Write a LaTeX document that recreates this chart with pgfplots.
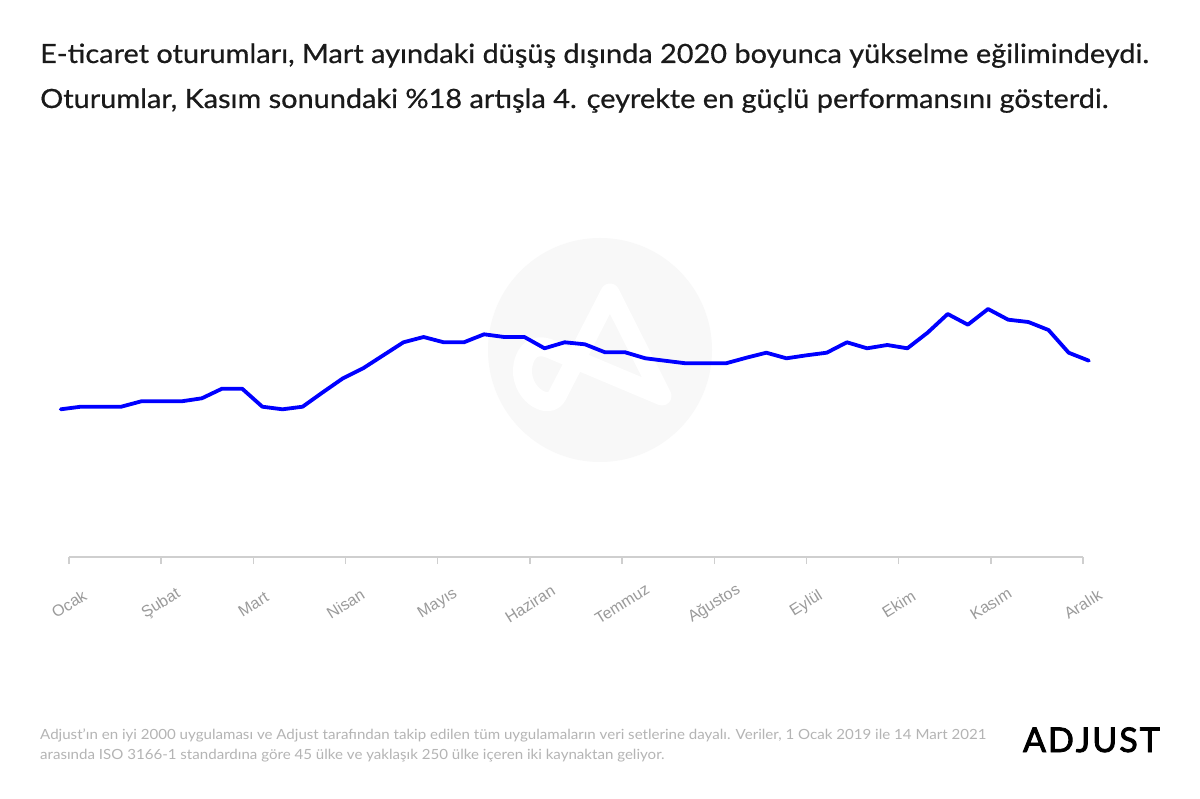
\documentclass[border=0pt]{standalone}
\usepackage{pgfplots}
\pgfplotsset{compat=1.18}
\usepackage{fontspec}
\setmainfont{Lato}
\newfontfamily\titlefont{Lato}[FakeBold=0.6, FakeStretch=1.09]
\newfontfamily\footfont{Lato}[FakeStretch=1.077]
\newfontfamily\tickfont{Liberation Sans}
\newfontfamily\logofont{Lato}[FakeBold=2.5]
\definecolor{titlecol}{HTML}{1A1A1A}
\definecolor{footcol}{HTML}{B4B4B4}
\definecolor{tickcol}{HTML}{9A9A9A}
\definecolor{axcol}{HTML}{CFCFCF}
\definecolor{wm}{HTML}{F8F8F8}
\definecolor{lineblue}{HTML}{0000FF}
\pgfplotstableread{
x y
0 147.7
1 150.3
2 150.3
3 150.3
4 155.7
5 155.7
6 155.7
7 158.7
8 168.3
9 168.3
10 150.3
11 147.7
12 150.3
13 164.7
14 178.7
15 188.7
16 201.7
17 214.7
18 220
19 214.7
20 214.7
21 222.7
22 220
23 220
24 208.7
25 214.7
26 212.7
27 204.7
28 204.7
29 198.7
30 196.2
31 193.7
32 193.7
33 193.7
34 199.2
35 204.3
36 198.7
37 201.7
38 204.3
39 214.7
40 208.7
41 212
42 208.7
43 224.3
44 243
45 232.3
46 248
47 237.3
48 235
49 227
50 204.3
51 196.3
}\sessions
\begin{document}
\begin{tikzpicture}
\begin{scope}[x=1pt,y=-1pt]
\fill[white] (0,0) rectangle (1200,799);
\path[use as bounding box] (0,0) rectangle (1200,799);
% watermark
\fill[wm] (600,350) circle (112);
\draw[white, line width=19pt, line cap=round, line join=round]
  (662,396) -- (610,293) -- (557,396)
  .. controls (548,412) and (518,392) .. (523,365)
  .. controls (526,350) and (535,344) .. (548,348) -- (662,396);
% titles
\node[anchor=base west, inner sep=0pt, text=titlecol, font=\titlefont\fontsize{26.5}{31}\selectfont] at (40,63) {E-ticaret oturumları, Mart ayındaki düşüş dışında 2020 boyunca yükselme eğilimindeydi.};
\node[anchor=base west, inner sep=0pt, text=titlecol, font=\titlefont\fontsize{26.5}{31}\selectfont] at (40,108) {Oturumlar, Kasım sonundaki \%18 artışla 4. çeyrekte en güçlü performansını gösterdi.};
% footer
\node[anchor=base west, inner sep=0pt, text=footcol, font=\footfont\fontsize{14}{17}\selectfont] at (40,739) {Adjust’ın en iyi 2000 uygulaması ve Adjust tarafından takip edilen tüm uygulamaların veri setlerine dayalı. Veriler, 1 Ocak 2019 ile 14 Mart 2021};
\node[anchor=base west, inner sep=0pt, text=footcol, font=\footfont\fontsize{14}{17}\selectfont] at (40,759) {arasında ISO 3166-1 standardına göre 45 ülke ve yaklaşık 250 ülke içeren iki kaynaktan geliyor.};
% logo
\node[anchor=base east, inner sep=0pt, text=black, font=\logofont\fontsize{34}{40}\selectfont] at (1160,752) {A\kern2pt D\kern2pt J\kern2pt U\kern2pt S\kern2pt T};
\end{scope}
\begin{axis}[
  at={(69pt,-557pt)}, anchor=south west,
  scale only axis, width=1014pt, height=300pt,
  xmin=0.41, xmax=50.71, ymin=0, ymax=300,
  clip=false,
  axis x line=bottom, axis y line=none,
  x axis line style={axcol, line width=1.6pt, -},
  xtick={0.41,4.983,9.556,14.129,18.702,23.275,27.848,32.421,36.994,41.567,46.14,50.71},
  xticklabels={Ocak,Şubat,Mart,Nisan,Mayıs,Haziran,Temmuz,Ağustos,Eylül,Ekim,Kasım,Aralık},
  xtick align=outside,
  major tick length=7pt,
  tick style={axcol, line width=1.4pt},
  xticklabel style={yshift=-40pt, rotate=32, anchor=center, text=tickcol, font=\tickfont\fontsize{16}{19}\selectfont},
  ytick=\empty,
]
\addplot[lineblue, line width=3.8pt, line join=round, line cap=round] table[x=x,y=y] {\sessions};
\end{axis}
\end{tikzpicture}
\end{document}
